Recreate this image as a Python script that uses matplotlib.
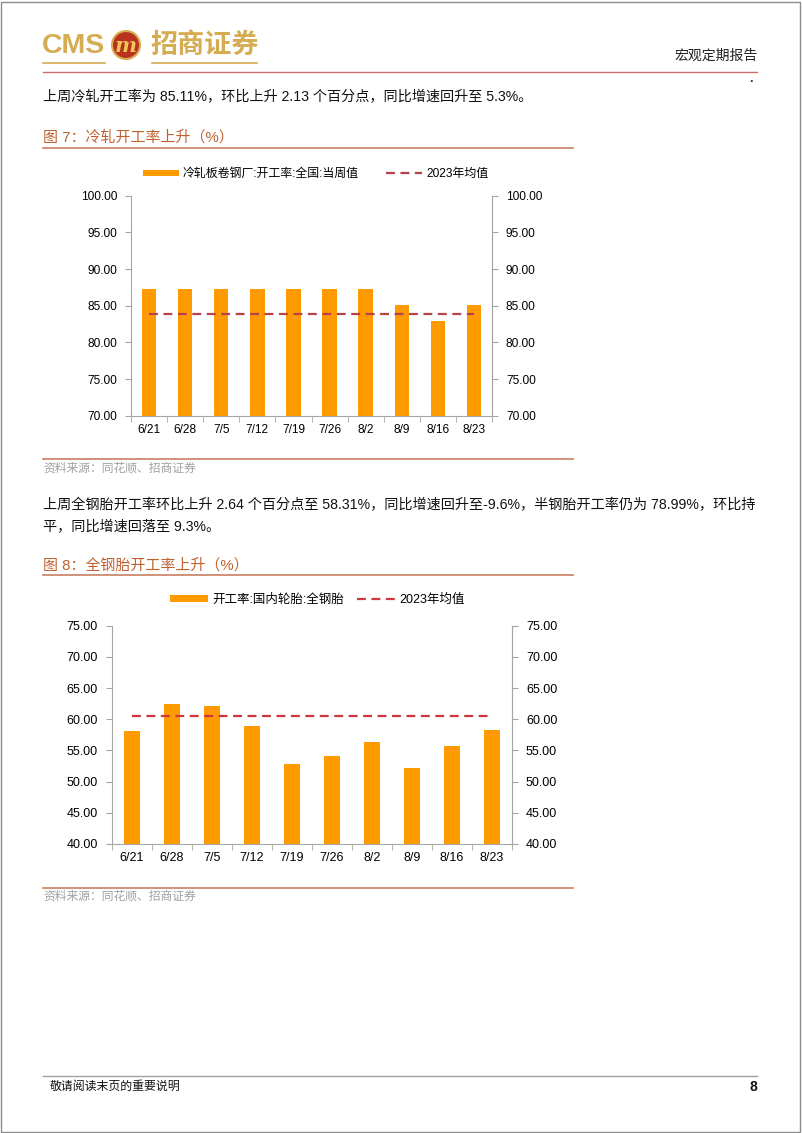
import matplotlib
matplotlib.use("Agg")
import matplotlib.pyplot as plt
import matplotlib.patches as mpatches
from matplotlib.lines import Line2D
import numpy as np

plt.rcParams['font.family'] = ['Liberation Sans', 'Noto Sans CJK SC', 'DejaVu Sans']

W, H = 802, 1133

# dane
dates = ["6/21", "6/28", "7/5", "7/12", "7/19", "7/26", "8/2", "8/9", "8/16", "8/23"]
cold_rolled = [87.24, 87.24, 87.24, 87.24, 87.24, 87.24, 87.24, 85.11, 82.98, 85.11]
cold_rolled_mean = 83.88
cold_label = "冷轧板卷钢厂:开工率:全国:当周值"
steel_tire = [58.16, 62.40, 62.20, 58.97, 52.87, 54.05, 56.40, 52.20, 55.67, 58.31]
steel_tire_mean = 60.45
tire_label = "开工率:国内轮胎:全钢胎"
mean_label = "2023年均值"

BAR = "#FF9A00"
GRAY = "#A6A6A6"
TITLE = "#C0622F"
GOLD = "#D6AC52"


def fx(x):
    return x / W


def fy(y):
    return 1 - y / H


def chart(fig, rect, values, mean, ylim, label, fs, legend_y, legend_x, dash_color, colsp):
    ax = fig.add_axes(rect)
    x = np.arange(len(values))
    bars = ax.bar(x, [v - ylim[0] for v in values], bottom=ylim[0], width=0.4, color=BAR, zorder=2)
    line, = ax.plot(x, [mean] * len(x), color=dash_color, lw=1.6, dashes=(4, 2.5), zorder=3)
    ax.set_xlim(-0.5, len(values) - 0.5)
    ax.set_ylim(*ylim)
    yt = np.arange(ylim[0], ylim[1] + 0.1, 5)
    ax.set_yticks(yt)
    ax.set_yticklabels([f"{v:.2f}" for v in yt], fontsize=fs)
    ax.set_xticks(x)
    ax.set_xticklabels(dates, fontsize=fs)
    ax.set_xticks(np.arange(-0.5, len(values)), minor=True)
    ax.tick_params(axis='x', which='major', length=0, pad=6)
    ax.tick_params(axis='x', which='minor', length=4, color=GRAY, direction='out')
    ax.tick_params(axis='y', length=4, color=GRAY, pad=6)
    for s in ['left', 'bottom', 'right']:
        ax.spines[s].set_color(GRAY)
    ax.spines['top'].set_visible(False)
    ax2 = ax.twinx()
    ax2.set_ylim(*ylim)
    ax2.set_yticks(yt)
    ax2.set_yticklabels([f"{v:.2f}" for v in yt], fontsize=fs)
    ax2.tick_params(axis='y', length=4, color=GRAY, pad=6)
    for s in ['left', 'bottom', 'top']:
        ax2.spines[s].set_visible(False)
    ax2.spines['right'].set_color(GRAY)
    fig.legend([bars, line], [label, mean_label], loc='center left',
               bbox_to_anchor=(fx(legend_x), fy(legend_y)),
               ncol=2, frameon=False, fontsize=fs, handlelength=3.0, handleheight=0.45,
               handletextpad=0.35, columnspacing=colsp, borderaxespad=0, borderpad=0)
    return ax


fig = plt.figure(figsize=(W / 100, H / 100), dpi=100)

# ramka strony
fig.patches.append(mpatches.Rectangle((0.001, 0.001), 0.997, 0.997, transform=fig.transFigure,
                                      fill=False, edgecolor="#8C8C8C", lw=1.0))

# nagłówek
fig.text(fx(42), fy(46), "CMS", fontsize=20.5, fontweight='bold', color=GOLD, va='center', ha='left',
         family=['Liberation Sans'])
fig.patches.append(mpatches.Ellipse((fx(126), fy(45)), 28 / W, 28 / H, transform=fig.transFigure,
                                    facecolor="#B8321E", edgecolor=GOLD, lw=1.5))
fig.text(fx(126), fy(46), "m", fontsize=15, fontweight='bold', style='italic', color="#F2C45A",
         ha='center', va='center', family=['DejaVu Serif'])
fig.text(fx(150), fy(45), "招商证券", fontsize=19.5, fontweight='bold', color=GOLD, va='center', ha='left',
         family=['Noto Sans CJK SC'])
fig.add_artist(Line2D([fx(43), fx(105)], [fy(63), fy(63)], color=GOLD, lw=1.2))
fig.add_artist(Line2D([fx(152), fx(257)], [fy(63), fy(63)], color=GOLD, lw=1.2))
fig.text(fx(758), fy(56), "宏观定期报告", fontsize=10, color="#222222", ha='right', va='center',
         family=['Noto Sans CJK SC'])
fig.add_artist(Line2D([fx(43), fx(757)], [fy(72), fy(72)], color="#D46A6A", lw=1.0))
fig.text(fx(751), fy(79), ".", fontsize=9, fontweight='bold', color="#333333", ha='center', va='center')

# tekst 1
fig.text(fx(43), fy(97), "上周冷轧开工率为 85.11%，环比上升 2.13 个百分点，同比增速回升至 5.3%。",
         fontsize=10.2, color="#111111", ha='left', va='center')

# wykres 7
fig.text(fx(43), fy(137), "图 7：冷轧开工率上升（%）", fontsize=10.8, color=TITLE, ha='left', va='center')
fig.add_artist(Line2D([fx(43), fx(573)], [fy(148), fy(148)], color="#C87E62", lw=1.2))
chart(fig, [fx(131), fy(415.7), fx(492) - fx(131), fy(195.7) - fy(415.7)], cold_rolled, cold_rolled_mean,
      (70, 100), cold_label, 8.6, 174, 143, "#B8424A", 2.3)
fig.add_artist(Line2D([fx(43), fx(573)], [fy(459), fy(459)], color="#C87E62", lw=1.2))
fig.text(fx(43), fy(469), "资料来源：同花顺、招商证券", fontsize=8.5, color="#A0A0A0", ha='left', va='center')

# tekst 2
fig.text(fx(43), fy(505), "上周全钢胎开工率环比上升 2.64 个百分点至 58.31%，同比增速回升至-9.6%，半钢胎开工率仍为 78.99%，环比持",
         fontsize=10.2, color="#111111", ha='left', va='center')
fig.text(fx(43), fy(527), "平，同比增速回落至 9.3%。", fontsize=10.2, color="#111111", ha='left', va='center')

# wykres 8
fig.text(fx(43), fy(565), "图 8：全钢胎开工率上升（%）", fontsize=10.8, color=TITLE, ha='left', va='center')
fig.add_artist(Line2D([fx(43), fx(573)], [fy(575), fy(575)], color="#C87E62", lw=1.2))
chart(fig, [fx(111.7), fy(844), fx(512) - fx(111.7), fy(625.7) - fy(844)], steel_tire, steel_tire_mean,
      (40, 75), tire_label, 9, 600, 170, "#D03640", 1.1)
fig.add_artist(Line2D([fx(43), fx(573)], [fy(888), fy(888)], color="#C87E62", lw=1.2))
fig.text(fx(43), fy(897), "资料来源：同花顺、招商证券", fontsize=8.5, color="#A0A0A0", ha='left', va='center')

# stopka
fig.add_artist(Line2D([fx(43), fx(757)], [fy(1076), fy(1076)], color="#A0A0A0", lw=1.0))
fig.text(fx(50), fy(1087), "敬请阅读末页的重要说明", fontsize=8.6, color="#111111", ha='left', va='center')
fig.text(fx(757), fy(1087), "8", fontsize=10, fontweight='bold', color="#111111", ha='right', va='center')

fig.savefig("out.png", dpi=100)
